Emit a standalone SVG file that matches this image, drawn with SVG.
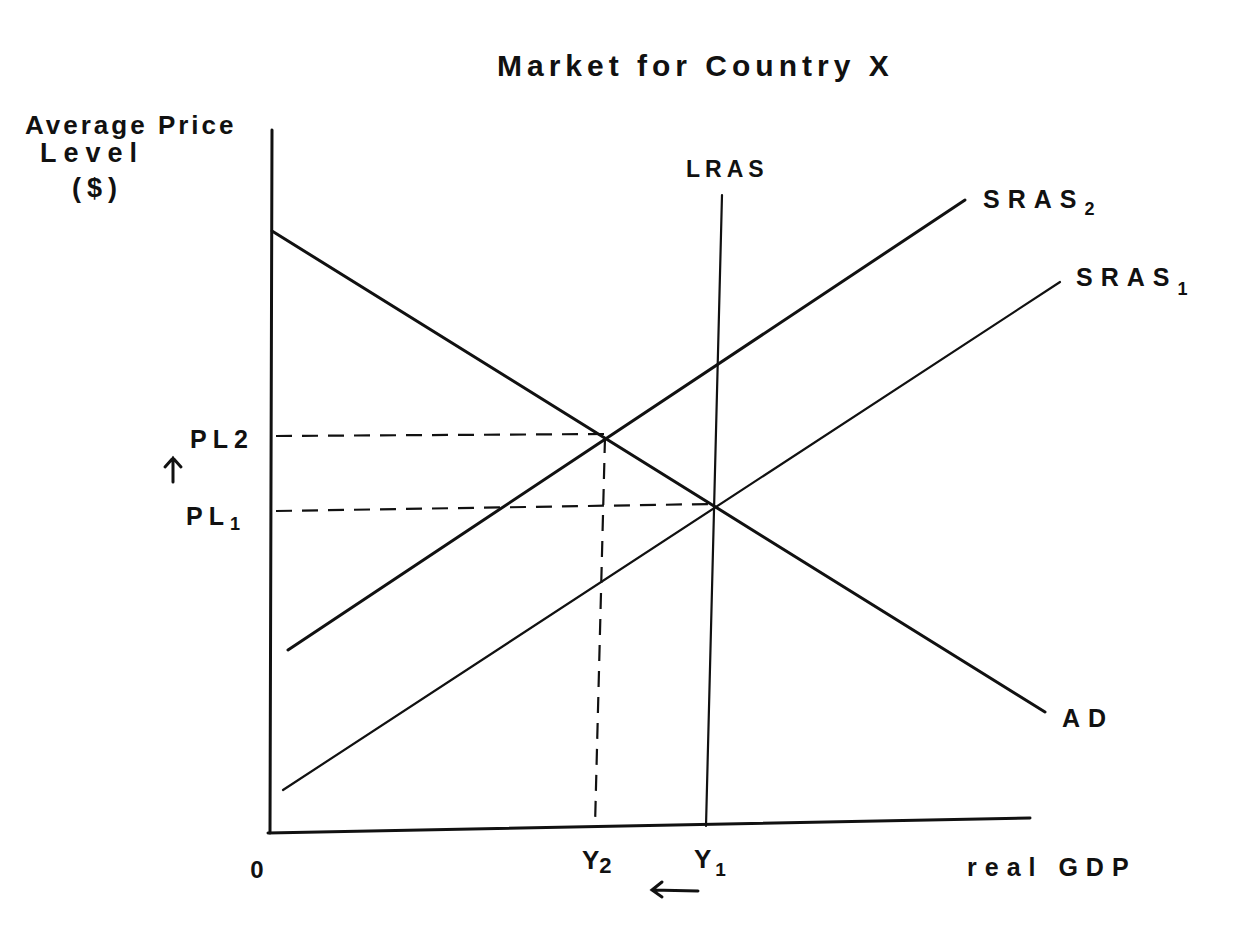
<svg xmlns="http://www.w3.org/2000/svg" width="1258" height="950" viewBox="0 0 1258 950">
<style>
.t{font-family:"Liberation Sans",Arial,sans-serif;font-weight:bold;fill:#111}
.ln{stroke:#111;stroke-width:3;fill:none;stroke-linecap:round}
.thin{stroke:#111;stroke-width:2.2;fill:none;stroke-linecap:round}
.d{stroke:#111;stroke-width:2.2;fill:none;stroke-dasharray:16 10}
</style>
<rect width="1258" height="950" fill="#fff"/>
<g id="title"><text class="t" x="497" y="76" font-size="30" letter-spacing="5">Market for Country X</text></g>
<g id="axes">
<path class="ln" d="M272,130 L270,833"/>
<path class="ln" d="M268,833 L1030,818"/>
<text class="t" x="25" y="134" font-size="26" letter-spacing="3">Average Price</text>
<text class="t" x="40" y="162" font-size="27" letter-spacing="7">Level</text>
<text class="t" x="72" y="197" font-size="27" letter-spacing="6">($)</text>
<text class="t" x="257" y="878" font-size="24" text-anchor="middle">0</text>
<text class="t" x="967" y="876" font-size="25" letter-spacing="8">real GDP</text>
</g>
<g id="connectors">
<path class="d" d="M276,436 L604,434"/>
<path class="d" d="M605,437 L595,826"/>
<path class="d" d="M276,511 L711,504"/>
</g>
<g id="AD"><path class="ln" d="M272,231 L1045,712"/><text class="t" x="1062" y="727" font-size="25" letter-spacing="8">AD</text></g>
<g id="SRAS2"><path class="ln" d="M288,650 L965,200"/><text class="t" x="983" y="208" font-size="25" letter-spacing="8">SRAS<tspan font-size="18" dy="7">2</tspan></text></g>
<g id="SRAS1"><path class="thin" d="M283,790 L1060,282"/><text class="t" x="1076" y="286" font-size="25" letter-spacing="8">SRAS<tspan font-size="18" dy="9">1</tspan></text></g>
<g id="LRAS"><path class="thin" d="M722,195 L706,826"/><text class="t" x="686" y="177" font-size="23" letter-spacing="5">LRAS</text></g>
<g id="PL2"><text class="t" x="190" y="448" font-size="25" letter-spacing="6">PL2</text></g>
<g id="PL1"><text class="t" x="186" y="525" font-size="25" letter-spacing="6">PL<tspan font-size="18" dy="5">1</tspan></text></g>
<g id="up-arrow"><path class="ln" d="M173,482 L173,458 M165,467 L173,458 L181,467"/></g>
<g id="Y2"><text class="t" x="582" y="869" font-size="26">Y<tspan font-size="22" dy="4">2</tspan></text></g>
<g id="Y1"><text class="t" x="694" y="868" font-size="26" letter-spacing="4">Y<tspan font-size="19" dy="8">1</tspan></text></g>
<g id="left-arrow"><path class="ln" d="M698,891 L652,890 M662,882 L652,890 L662,897"/></g>
</svg>
